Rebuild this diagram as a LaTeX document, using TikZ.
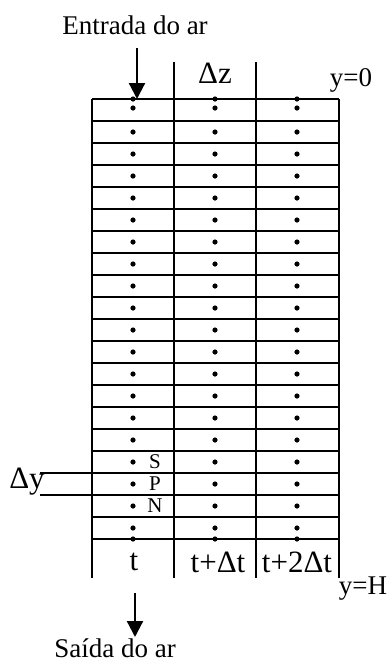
\documentclass[tikz,border=0pt]{standalone}
\usepackage{fontspec}
\setmainfont{Liberation Serif}
\usetikzlibrary{arrows.meta}
\tikzset{
  gridline/.style={line width=1.1pt},
  flow/.style={-{Triangle[length=8pt,width=8pt]}, line width=1.1pt},
  lbl/.style={inner sep=0pt, font=\fontsize{13.5}{16}\selectfont},
  biglbl/.style={inner sep=0pt, font=\fontsize{15.5}{18}\selectfont},
  smalllbl/.style={inner sep=0pt, font=\fontsize{10.5}{12}\selectfont}
}

\begin{document}
\begin{tikzpicture}[x=0.5pt,y=-0.5pt]
  \useasboundingbox (0,0) rectangle (390,661);

  \foreach \r in {0,...,20}
    \draw[gridline] (92,99+22*\r) -- (339,99+22*\r);
  \draw[gridline] (92,99) -- (92,578);
  \draw[gridline] (174,62) -- (174,578);
  \draw[gridline] (256,62) -- (256,578);
  \draw[gridline] (339,99) -- (339,578);
  \draw[gridline] (40,473) -- (92,473);
  \draw[gridline] (40,495) -- (92,495);

  \foreach \x in {133,215,297} {
    \fill (\x,99) circle (1.3pt);
    \fill (\x,108) circle (1.3pt);
    \foreach \r in {1,...,18}
      \fill (\x,110+22*\r) circle (1.3pt);
    \fill (\x,528) circle (1.3pt);
    \fill (\x,539) circle (1.3pt);
  }

  \node[lbl] (inlet) at (135,25) {Entrada do ar};
  \node[biglbl] (dz) at (215,73) {Δz};
  \node[lbl] (ytop) at (351,80) {y=0};
  \node[lbl] (ybot) at (363,589) {y=H};
  \node[biglbl] (dy) at (27,482) {Δy};
  \node[smalllbl] (S) at (155,462) {S};
  \node[smalllbl] (P) at (155,484) {P};
  \node[smalllbl] (N) at (155,506) {N};
  \node[biglbl] (t0) at (134,562) {t};
  \node[biglbl] (t1) at (218,562) {t+Δt};
  \node[biglbl] (t2) at (297,562) {t+2Δt};
  \node[lbl] (outlet) at (115,648) {Saída do ar};

  \coordinate (inStart) at (137,48);
  \coordinate (inEnd) at (137,99);
  \coordinate (outStart) at (135,593);
  \coordinate (outEnd) at (135,637);
  \draw[flow] (inStart) -- (inEnd);
  \draw[flow] (outStart) -- (outEnd);
\end{tikzpicture}
\end{document}
